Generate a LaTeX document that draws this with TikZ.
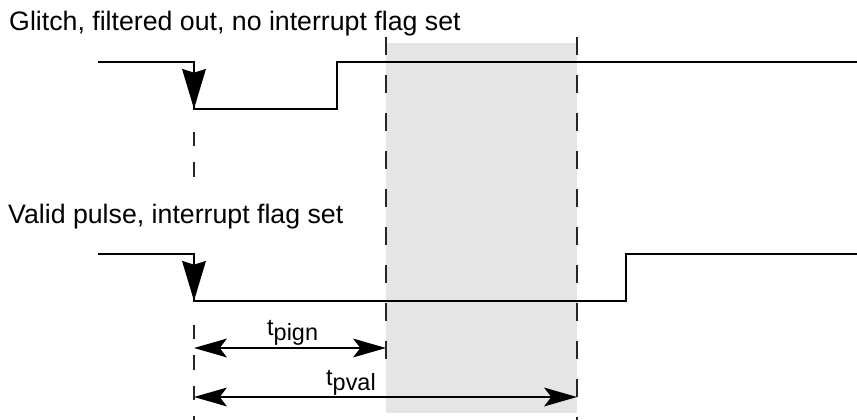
\documentclass[tikz,border=0pt]{standalone}
\usepackage{fontspec}
\setmainfont{Liberation Sans}
\usetikzlibrary{arrows.meta}
\tikzstyle{signal}=[line width=2.5pt, line join=miter]
\tikzstyle{edgearrow}=[line width=2.5pt, -{Stealth[length=34pt,width=20pt,inset=3pt]}]
\tikzstyle{marker}=[line width=1.6pt, black!85, dash pattern=on 15.4pt off 17pt]
\tikzstyle{startmarker}=[line width=1.6pt, black!85, dash pattern=on 12pt off 14pt]
\tikzstyle{dimension}=[line width=1.5pt, {Stealth[length=28pt,width=16pt,inset=6pt]}-{Stealth[length=28pt,width=16pt,inset=6pt]}]
\tikzstyle{caption}=[anchor=base west, inner sep=0pt, font=\fontsize{22.8}{26}\selectfont]
\tikzstyle{timelabel}=[anchor=base west, inner sep=0pt, font=\fontsize{20}{23}\selectfont]
\newcommand{\tname}[1]{t\raisebox{-5pt}{#1}}

\begin{document}
\begin{tikzpicture}[x=0.03cm, y=-0.03cm]
  \useasboundingbox (0,0) rectangle (857,420);
  % window in which the pulse is checked
  \fill[black!10] (386,43) rectangle (577,413);

  % captions
  \node[caption] (glitch) at (9,30) {Glitch, filtered out, no interrupt flag set};
  \node[caption] (valid) at (8,223) {Valid pulse, interrupt flag set};

  % time markers
  \draw[startmarker] (194,132) -- (194,190);
  \draw[startmarker] (194,325) -- (194,420);
  \draw[marker] (386,37) -- (386,363);
  \draw[marker] (577,37) -- (577,420);

  % the two input signals
  \foreach \y/\rise/\name in {62/337/glitch, 254/626/pulse}
  {
    \draw[signal] (98,\y) -- (194,\y) -- (194,\y+47) -- (\rise,\y+47) -- (\rise,\y) -- (857,\y);
    \draw[edgearrow] (194,\y) -- (194,\y+47);
  }

  % filter times
  \coordinate (pignL) at (194,348);
  \coordinate (pignR) at (386,348);
  \coordinate (pvalL) at (194,397);
  \coordinate (pvalR) at (577,397);
  \draw[dimension] (pignL) -- (pignR);
  \draw[dimension] (pvalL) -- (pvalR);
  \node[timelabel] (pign) at (267,335) {\tname{pign}};
  \node[timelabel] (pval) at (326,385) {\tname{pval}};
\end{tikzpicture}
\end{document}
